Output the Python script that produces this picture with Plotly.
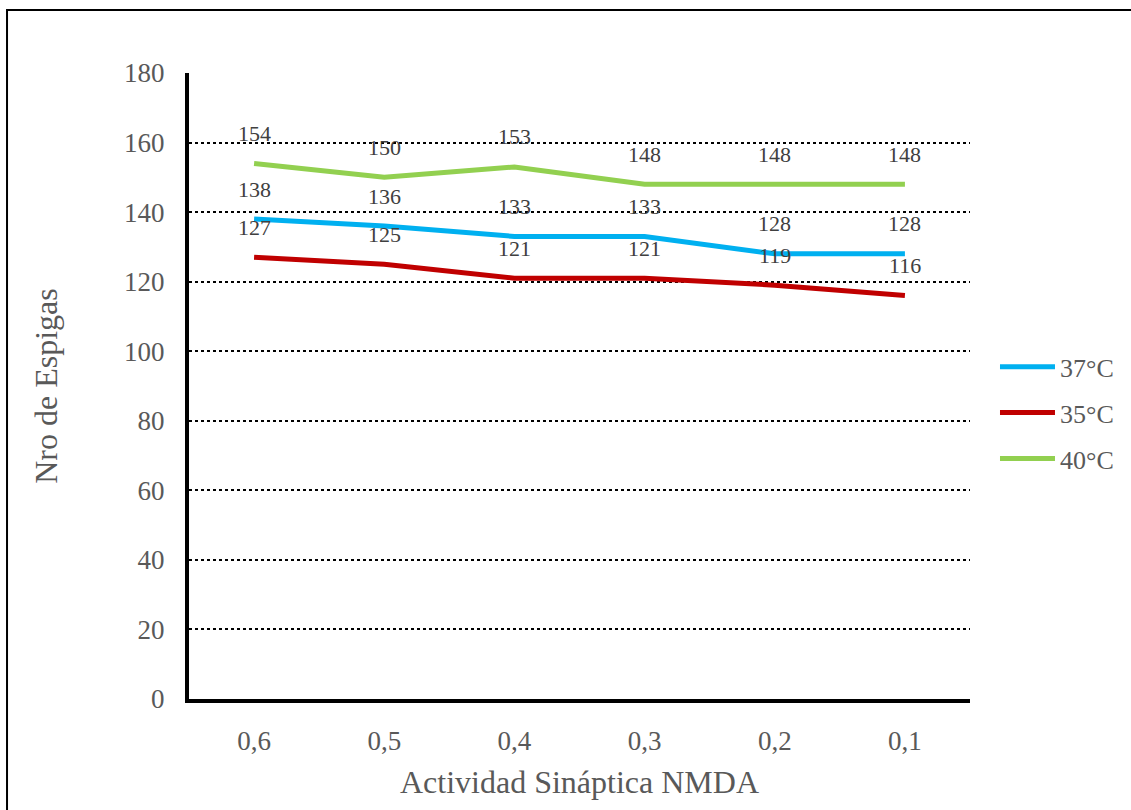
import plotly.graph_objects as go

categories = ["0,6", "0,5", "0,4", "0,3", "0,2", "0,1"]
series_names = ["37°C", "35°C", "40°C"]
v37 = [138, 136, 133, 133, 128, 128]
v35 = [127, 125, 121, 121, 119, 116]
v40 = [154, 150, 153, 148, 148, 148]
colors = ["#00B0F0", "#C00000", "#92D050"]

FONT = "'Liberation Serif', 'Times New Roman', serif"
fig = go.Figure()
for name, vals, col in zip(series_names, [v37, v35, v40], colors):
    fig.add_trace(go.Scatter(x=categories, y=vals, name=name, mode="lines",
                             line=dict(color=col, width=5), legendgroup=name))
    for c, v in zip(categories, vals):
        fig.add_annotation(x=c, y=v, text=str(v), showarrow=False, yshift=30,
                           font=dict(family=FONT, size=22, color="#404040"))

fig.add_shape(type="rect", xref="paper", yref="paper", x0=-0.233, x1=1.3, y0=-0.5, y1=1.1006,
              line=dict(color="black", width=2), layer="below")

fig.update_layout(
    width=1131, height=810,
    margin=dict(l=189, r=161, t=73, b=111),
    plot_bgcolor="white", paper_bgcolor="white",
    font=dict(family=FONT, color="#595959"),
    legend=dict(x=1.032, y=0.457, xanchor="left", yanchor="middle",
                font=dict(family=FONT, size=26, color="#595959"),
                tracegroupgap=9, traceorder="grouped", itemwidth=55),
    showlegend=True,
)
fig.update_xaxes(range=[-0.5, 5.5], showline=True, linecolor="black", linewidth=4, showgrid=False,
                 ticks="outside", ticklen=15, tickcolor="rgba(0,0,0,0)",
                 tickfont=dict(family=FONT, size=27, color="#595959"),
                 title=dict(text="Actividad Sináptica NMDA", standoff=16,
                            font=dict(family=FONT, size=32, color="#595959")))
fig.update_yaxes(range=[0, 180], dtick=20, showline=True, linecolor="black", linewidth=4,
                 showgrid=True, gridcolor="black", griddash="dot", gridwidth=1.5,
                 zeroline=False,
                 ticks="outside", ticklen=15, tickcolor="rgba(0,0,0,0)",
                 tickfont=dict(family=FONT, size=27, color="#595959"),
                 title=dict(text="Nro de Espigas", standoff=58,
                            font=dict(family=FONT, size=32, color="#595959")))

fig.write_html("out.html")
